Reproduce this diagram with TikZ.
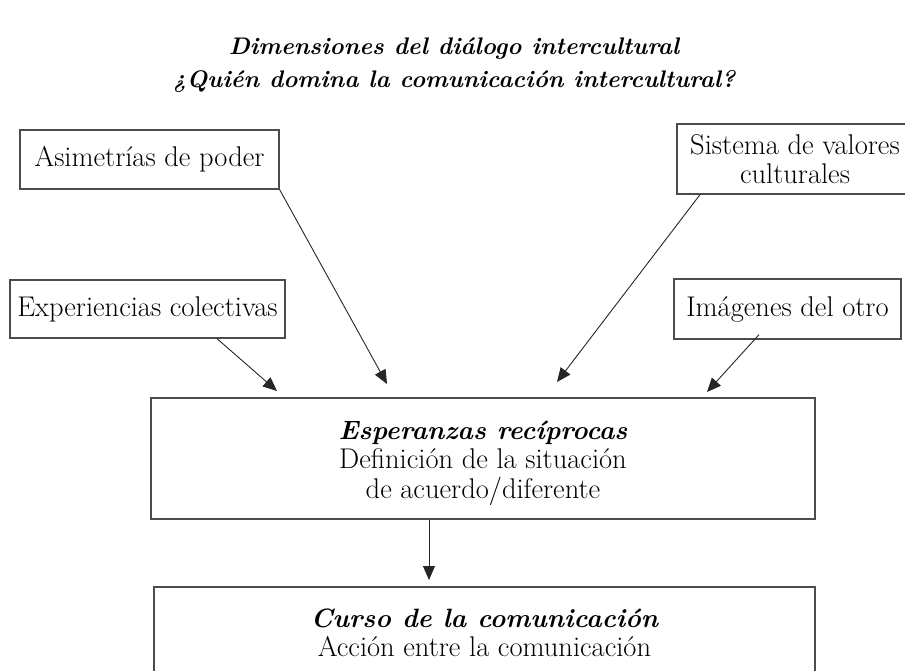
\documentclass[tikz,border=0pt]{standalone}
\usetikzlibrary{arrows.meta,calc}
\newcommand{\bihead}[1]{{\fontsize{26.5}{29.5}\selectfont\bfseries\itshape #1}}
\begin{document}
\begin{tikzpicture}[x=1pt,y=-1pt,
  box/.style={draw=black!70,line width=1.3pt,rectangle,inner sep=0pt,align=center,
    font=\fontsize{28.5}{29.5}\selectfont},
  txt/.style={inner sep=0pt,align=center,font=\fontsize{28.5}{29.5}\selectfont},
  conn/.style={draw=black!85,line width=0.9pt,-{Triangle[length=14pt,width=12pt]}},
  ttl/.style={font=\fontsize{24}{33}\selectfont\bfseries\itshape,align=center}]
\useasboundingbox (0,0) rectangle (905,671);
\clip (0,0) rectangle (905,671);
\node[ttl] (title) at (454,65) {Dimensiones del diálogo intercultural\\¿Quién domina la comunicación intercultural?};
\node[box,minimum width=259pt,minimum height=59pt] (asim) at (149.5,159.5) {Asimetrías de poder};
\node[box,minimum width=236pt,minimum height=70pt] (sis) at (795,159) {Sistema de valores\\culturales};
\node[box,minimum width=275pt,minimum height=58pt] (exp) at (147.5,309) {Experiencias colectivas};
\node[box,minimum width=227pt,minimum height=60pt] (ima) at (787.5,309) {Imágenes del otro};
\node[box,minimum width=664pt,minimum height=121pt] (esp) at (483,458.5) {};
\node[txt] (esptxt) at (483,463) {\bihead{Esperanzas recíprocas}\\Definición de la situación\\de acuerdo/diferente};
\node[box,minimum width=661pt,minimum height=88pt] (cur) at (484.5,631) {};
\node[txt] (curtxt) at (484.5,633) {\bihead{Curso de la comunicación}\\Acción entre la comunicación};
\coordinate (t1) at (277,391);
\coordinate (t2) at (387,384);
\coordinate (t3) at (557,382);
\coordinate (t4) at (707,392);
\coordinate (t5) at (429,580);
\draw[conn] ([xshift=69.5pt]exp.south) -- (t1);
\draw[conn] (asim.south east) -- (t2);
\draw[conn] ([xshift=-95pt]sis.south) -- (t3);
\draw[conn] ([xshift=-28.5pt,yshift=5pt]ima.south) -- (t4);
\draw[conn] ([xshift=-54pt]esp.south) -- (t5);
\end{tikzpicture}
\end{document}
